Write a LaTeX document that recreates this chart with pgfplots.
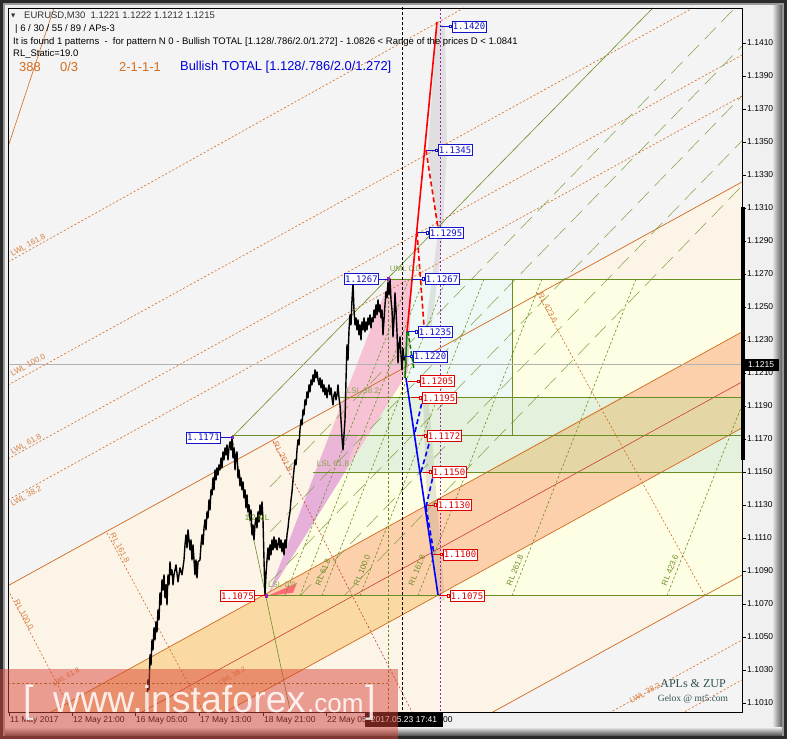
\documentclass[border=0pt]{standalone}
\usepackage{pgfplots}
\pgfplotsset{compat=1.18}
\usepackage{fontspec}
\setmainfont{Liberation Sans}
\newfontfamily\dejavu{DejaVu Sans}
\newfontfamily\monof{DejaVu Sans Mono}
\newfontfamily\seriff{Liberation Serif}
\definecolor{framedark}{HTML}{2B2B2B}
\definecolor{bevel}{HTML}{9A9A9A}
\definecolor{panel}{HTML}{F0F0F0}
\definecolor{plotbg}{HTML}{F4F4F4}
\definecolor{peach}{HTML}{FDF4E8}
\definecolor{bandYO}{HTML}{FBD9A2}
\definecolor{salmon}{HTML}{FCD0AA}
\definecolor{olivetan}{HTML}{E4D7A5}
\definecolor{ltyellow}{HTML}{FEFEE4}
\definecolor{ltgreen}{HTML}{E4F1DC}
\definecolor{ltcyan}{HTML}{EEF9F6}
\definecolor{pinkA}{HTML}{F7C2D4}
\definecolor{pinkB}{HTML}{E6B0DA}
\definecolor{org}{HTML}{D2691E}
\definecolor{redline}{HTML}{C8402F}
\definecolor{olive}{HTML}{6B8E23}
\definecolor{lblue}{HTML}{1414C8}
\definecolor{lred}{HTML}{E00000}
\definecolor{slate}{HTML}{2F4F4F}
\definecolor{wm}{HTML}{D8463A}
\definecolor{magen}{HTML}{A020C0}
\newcommand{\lblfont}{\monof\fontsize{9}{10}\selectfont}
\newcommand{\smf}{\fontsize{8}{9}\selectfont}
\newcommand{\hdf}{\fontsize{9.5}{10}\selectfont}
\newcommand{\plab}[5]{%
  \addplot[#4, line width=0.6pt, mark=square*, mark size=1.2pt, mark options={fill=white, solid}, mark indices={2}] coordinates {(#1,#2) (#3,#2)};
  \node[anchor=west, draw=#4, fill=white, text=#4, font=\lblfont, inner xsep=1pt, inner ysep=0pt, minimum height=11pt, line width=0.6pt, xshift=1.5pt] at (axis cs:#3,#2) {#5};
}
\newcommand{\plabL}[5]{%
  \addplot[#4, line width=0.6pt] coordinates {(#3,#2) (#1,#2)};
  \node[anchor=east, draw=#4, fill=white, text=#4, font=\lblfont, inner xsep=1pt, inner ysep=0pt, minimum height=11pt, line width=0.6pt] at (axis cs:#3,#2) {#5};
}
\begin{document}
\begin{tikzpicture}[x=1pt,y=1pt]
\useasboundingbox (0,0) rectangle (787,739);
\fill[framedark] (0,0) rectangle (787,739);
\fill[bevel] (3,3) rectangle (784,736);
\shade[left color=panel, right color=bevel!60!black] (772,6) rectangle (782,733);
\shade[top color=panel, bottom color=bevel!60!black] (5,4) rectangle (782,12);
\fill[panel] (5,12) rectangle (772,734);
\begin{axis}[
  at={(8pt,27pt)}, anchor=south west, scale only axis,
  width=734pt, height=704pt,
  xmin=8, xmax=742, ymin=1.100455, ymax=1.143121,
  axis background/.style={fill=plotbg},
  axis line style={black, line width=0.8pt},
  axis on top,
  clip mode=individual,
  scaled y ticks=false,
  ytick={1.101,1.103,1.105,1.107,1.109,1.111,1.113,1.115,1.117,1.119,1.121,1.123,1.125,1.127,1.129,1.131,1.133,1.135,1.137,1.139,1.141},
  yticklabels={1.1010,1.1030,1.1050,1.1070,1.1090,1.1110,1.1130,1.1150,1.1170,1.1190,1.1210,1.1230,1.1250,1.1270,1.1290,1.1310,1.1330,1.1350,1.1370,1.1390,1.1410},
  ytick pos=right, yticklabel pos=right,
  xtick={9,72,135,199,263,326},
  xticklabels={11 May 2017,12 May 21:00,16 May 05:00,17 May 13:00,18 May 21:00,22 May 05:00},
  xtick pos=left,
  tick align=outside, major tick length=4pt,
  tick style={black, line width=0.6pt},
  y tick label style={font=\fontsize{8.5}{10}\selectfont, anchor=west, inner sep=0pt, xshift=1pt},
  x tick label style={font=\fontsize{8.5}{10}\selectfont, anchor=north west, inner sep=0pt, xshift=1pt, yshift=-0.5pt},
]
% ---- zones
\addplot[fill=peach, draw=none] coordinates {(8,1.10811) (742,1.13258) (742,1.10876) (8,1.08429)} --cycle;
\addplot[fill=bandYO, draw=none] coordinates {(8,1.09902) (742,1.12349) (742,1.11767) (8,1.09320)} --cycle;
\addplot[fill=ltyellow, draw=none] coordinates {(268,1.1075) (390,1.1267) (742,1.1267) (742,1.1075)} --cycle;
\addplot[fill=ltgreen, draw=none] coordinates {(315,1.1150) (344,1.1195) (742,1.1195) (742,1.1150)} --cycle;
\addplot[fill=ltcyan, draw=none] coordinates {(408,1.1195) (408,1.1267) (512,1.1267) (512,1.1195)} --cycle;
\addplot[fill=salmon, draw=none] coordinates {(268,1.1075) (269.6,1.10774) (742,1.12349) (742,1.11767) (436.5,1.1075)} --cycle;
\addplot[fill=olivetan, draw=none] coordinates {(486,1.1150) (620,1.1195) (742,1.1195) (742,1.11767) (660,1.1150)} --cycle;
% pink pattern triangle
\addplot[fill=pinkB, draw=none] coordinates {(268,1.1075) (315.3,1.1150) (344.9,1.1150)} --cycle;
\addplot[fill=pinkA, draw=none] coordinates {(315.3,1.1150) (390,1.1267) (412,1.1267) (408,1.12107) (344.9,1.1150)} --cycle;
\addplot[fill=pinkB!70!pinkA, draw=none] coordinates {(315.3,1.1150) (330,1.1173) (358,1.1173) (344.9,1.1150)} --cycle;
\addplot[fill=red!45!pinkA, draw=none] coordinates {(268,1.1075) (293,1.10768) (297,1.10828)} --cycle;
% shadows
\addplot[fill=gray, fill opacity=0.18, draw=none] coordinates {(437,1.1423) (445,1.1420) (447,1.1345) (442,1.1290) (431,1.1235) (425,1.1235) (438,1.1295) (428,1.1345)} --cycle;
\addplot[fill=gray, fill opacity=0.18, draw=none] coordinates {(423,1.1195) (429,1.1192) (445,1.1072) (439,1.1072) (427,1.1130)} --cycle;
% ---- channel lines
\addplot[org, line width=0.7pt] coordinates {(8,1.10811) (742,1.13258)};
\addplot[org, line width=0.7pt] coordinates {(8,1.09902) (742,1.12349)};
\addplot[redline, line width=0.6pt] coordinates {(8,1.09599) (742,1.12046)};
\addplot[org, line width=0.7pt] coordinates {(8,1.09320) (742,1.11767)};
\addplot[org, line width=0.7pt] coordinates {(8,1.08429) (742,1.10876)};
\addplot[org, line width=0.6pt] coordinates {(8,1.13470) (54,1.14313)};
% dashed warning lines
\addplot[org, line width=0.6pt, dash pattern=on 2pt off 2pt] coordinates {(8,1.12773) (742,1.15252)};
\addplot[org, line width=0.6pt, dash pattern=on 2pt off 2pt] coordinates {(8,1.12027) (742,1.14476)};
\addplot[org, line width=0.6pt, dash pattern=on 2pt off 2pt] coordinates {(8,1.11579) (742,1.14027)};
\addplot[org, line width=0.6pt, dash pattern=on 2pt off 2pt] coordinates {(8,1.11330) (742,1.13779)};
\addplot[org, line width=0.6pt, dash pattern=on 2pt off 2pt] coordinates {(560,1.09876) (742,1.10482)};
\addplot[org, line width=0.6pt, dash pattern=on 2pt off 2pt] coordinates {(650,1.09931) (742,1.10240)};
% reaction lines
\addplot[org, line width=0.6pt, dash pattern=on 2pt off 2pt] coordinates {(8,1.10785) (76,1.09997)};
\addplot[org, line width=0.6pt, dash pattern=on 2pt off 2pt] coordinates {(107,1.11130) (208,1.09997)};
\addplot[redline, line width=0.6pt, dash pattern=on 2pt off 2pt] coordinates {(273,1.11688) (412,1.10046)};
\addplot[org, line width=0.6pt, dash pattern=on 2pt off 2pt] coordinates {(537,1.12585) (705,1.1075)};
% olive fan / long dashed lines
\addplot[olive, line width=0.6pt] coordinates {(232,1.1171) (653,1.14313)};
\addplot[olive, line width=0.6pt] coordinates {(232,1.1171) (291,1.1003)};
\addplot[olive!85!white, line width=0.5pt, dash pattern=on 16pt off 8pt] coordinates {(270,1.11410) (735,1.14313)};
\addplot[olive!85!white, line width=0.5pt, dash pattern=on 16pt off 8pt] coordinates {(270,1.11137) (742,1.14082)};
\addplot[olive!85!white, line width=0.5pt, dash pattern=on 16pt off 8pt] coordinates {(270,1.10834) (742,1.13779)};
\addplot[olive!85!white, line width=0.5pt, dash pattern=on 16pt off 8pt] coordinates {(300,1.1075) (742,1.13507)};
\addplot[olive!85!white, line width=0.5pt, dash pattern=on 16pt off 8pt] coordinates {(344,1.1075) (742,1.13234)};
% steep green dashed RL lines
\addplot[olive, line width=0.6pt, dash pattern=on 2.5pt off 2pt] coordinates {(285,1.1075) (409,1.1267)};
\addplot[olive, line width=0.6pt, dash pattern=on 2.5pt off 2pt] coordinates {(300,1.1075) (424,1.1267)};
\addplot[olive, line width=0.6pt, dash pattern=on 2.5pt off 2pt] coordinates {(322,1.1075) (446,1.1267)};
\addplot[olive, line width=0.6pt, dash pattern=on 2.5pt off 2pt] coordinates {(360,1.1075) (484,1.1267)};
\addplot[olive, line width=0.6pt, dash pattern=on 2.5pt off 2pt] coordinates {(418,1.1075) (542,1.1267)};
\addplot[olive, line width=0.6pt, dash pattern=on 2.5pt off 2pt] coordinates {(512,1.1075) (636,1.1267)};
\addplot[olive, line width=0.6pt, dash pattern=on 2.5pt off 2pt] coordinates {(667,1.1075) (742,1.11906)};
% horizontal levels
\addplot[olive, line width=0.7pt] coordinates {(390,1.1267) (742,1.1267)};
\addplot[olive, line width=0.7pt] coordinates {(340,1.1195) (742,1.1195)};
\addplot[olive, line width=0.7pt] coordinates {(232,1.1172) (742,1.1172)};
\addplot[olive, line width=0.7pt] coordinates {(313,1.1150) (742,1.1150)};
\addplot[olive, line width=0.7pt] coordinates {(268,1.1075) (742,1.1075)};
\addplot[olive, line width=0.7pt] coordinates {(512,1.1172) (512,1.1267)};
\addplot[olive, line width=0.6pt, dash pattern=on 2.5pt off 2pt] coordinates {(388,1.1267) (388,1.1003)};
\addplot[olive!60!org, line width=0.6pt, dash pattern=on 2.5pt off 2pt] coordinates {(8,1.10222) (388,1.10222)};
\addplot[black!30, line width=0.6pt] coordinates {(8,1.1215) (742,1.1215)};
% time lines
\addplot[black, line width=0.7pt, dash pattern=on 3pt off 2pt] coordinates {(402,1.1003) (402,1.1432)};
\addplot[magen, line width=0.6pt, dash pattern=on 2pt off 2pt] coordinates {(440,1.1003) (440,1.1432)};
% ---- price (M30)
\addplot[black, line width=1.4pt, line join=round] coordinates {
(146,1.09968)(147,1.10119)(148,1.10240)(149,1.10180)(150,1.10392)(151,1.10331)(152,1.10483)(153,1.10422)(154,1.10556)(155,1.10483)
(156,1.10592)(157,1.10531)(158,1.10664)(159,1.10604)(160,1.10768)(161,1.10695)(162,1.10846)(163,1.10786)(164,1.10877)(165,1.10738)
(166,1.10816)(167,1.10695)(168,1.10877)(169,1.10816)(170,1.10955)(171,1.10877)(172,1.10907)(173,1.10816)(174,1.10877)(176,1.10937)
(178,1.10834)(180,1.10919)(182,1.10877)(184,1.10967)(185,1.11059)(186,1.11119)(187,1.11040)(188,1.11149)(190,1.11028)(191,1.11089)
(192,1.10967)(193,1.11059)(195,1.10877)(196,1.10967)(197,1.10858)(198,1.10955)(200,1.10967)(201,1.11059)(202,1.11119)(203,1.11059)
(204,1.11161)(205,1.11210)(206,1.11149)(207,1.11258)(208,1.11222)(209,1.11331)(210,1.11270)(211,1.11392)(212,1.11361)(213,1.11464)
(214,1.11392)(215,1.11513)(216,1.11452)(217,1.11525)(218,1.11482)(219,1.11543)(220,1.11513)(221,1.11585)(222,1.11525)(223,1.11622)
(224,1.11573)(225,1.11646)(226,1.11604)(227,1.11664)(228,1.11573)(229,1.11646)(230,1.11683)(231,1.11634)(232,1.11713)(233,1.11585)
(234,1.11646)(235,1.11513)(236,1.11604)(237,1.11622)(238,1.11464)(239,1.11513)(240,1.11416)(241,1.11464)(242,1.11392)(243,1.11440)
(244,1.11343)(245,1.11392)(246,1.11282)(247,1.11361)(248,1.11258)(249,1.11301)(250,1.11210)(251,1.11270)(252,1.11119)(253,1.11179)
(254,1.11089)(255,1.11179)(256,1.11222)(257,1.11161)(258,1.11258)(259,1.11198)(260,1.11301)(261,1.11240)(262,1.11319)(263,1.11210)
(264,1.10967)(265,1.10755)(266,1.10877)(267,1.10967)(268,1.11040)(269,1.10967)(270,1.11059)(271,1.10998)(272,1.11089)(273,1.11028)
(274,1.11107)(275,1.11040)(276,1.11089)(277,1.11028)(278,1.11059)(279,1.11101)(280,1.11040)(281,1.11089)(282,1.11016)(283,1.11071)
(284,1.10998)(285,1.11089)(286,1.11040)(287,1.11119)(288,1.11161)(289,1.11222)(290,1.11258)(291,1.11331)(292,1.11380)(293,1.11452)
(294,1.11513)(295,1.11573)(296,1.11543)(297,1.11634)(298,1.11695)(299,1.11664)(300,1.11755)(301,1.11816)(302,1.11785)(303,1.11876)
(304,1.11846)(305,1.11937)(306,1.11907)(307,1.11986)(308,1.11949)(309,1.12028)(310,1.11986)(311,1.12058)(312,1.12028)(313,1.12089)
(314,1.12046)(315,1.12119)(316,1.12070)(317,1.12107)(318,1.12058)(319,1.12028)(320,1.12070)(321,1.12010)(322,1.12058)(323,1.11986)
(324,1.12028)(325,1.11967)(326,1.12010)(327,1.11949)(328,1.11998)(329,1.12028)(330,1.11967)(331,1.12010)(332,1.11949)(333,1.11907)
(334,1.11967)(335,1.11986)(336,1.11937)(337,1.11967)(338,1.12028)(339,1.11949)(340,1.11907)(341,1.11816)(342,1.11707)(343,1.11634)
(344,1.11725)(345,1.11816)(346,1.12058)(347,1.12270)(348,1.12179)(349,1.12361)(350,1.12452)(351,1.12392)(352,1.12543)(353,1.12646)
(354,1.12482)(355,1.12392)(356,1.12434)(357,1.12361)(358,1.12422)(359,1.12331)(360,1.12392)(361,1.12301)(362,1.12410)(363,1.12361)
(364,1.12434)(365,1.12349)(366,1.12410)(367,1.12361)(368,1.12434)(369,1.12392)(370,1.12452)(371,1.12373)(372,1.12434)(373,1.12410)
(374,1.12482)(375,1.12434)(376,1.12513)(377,1.12452)(378,1.12543)(379,1.12470)(380,1.12513)(381,1.12434)(382,1.12482)(383,1.12331)
(384,1.12422)(385,1.12513)(386,1.12592)(387,1.12555)(388,1.12652)(389,1.12573)(390,1.12670)(391,1.12543)(392,1.12482)(393,1.12319)
(394,1.12422)(395,1.12586)(396,1.12482)(397,1.12343)(398,1.12161)(399,1.12270)(400,1.12319)(401,1.12210)(402,1.12119)(403,1.12246)
(404,1.12179)(405,1.12198)(406,1.12149)};
% ---- pattern legs
\addplot[red, line width=1.6pt] coordinates {(407,1.12349) (437,1.14227)};
\addplot[red, line width=1.6pt, dash pattern=on 5pt off 3pt] coordinates {(417,1.12955) (424,1.12385)};
\addplot[red, line width=1.6pt, dash pattern=on 5pt off 3pt] coordinates {(426,1.13452) (438,1.12979)};
\addplot[green!50!black, line width=1.6pt] coordinates {(407,1.12349) (405,1.12070)};
\addplot[green!50!black, line width=1.6pt, dash pattern=on 4pt off 2.5pt] coordinates {(408,1.12349) (414,1.12119)};
\addplot[blue, line width=1.6pt] coordinates {(406,1.12070) (438,1.10755)};
\addplot[blue, line width=1.6pt, dash pattern=on 5pt off 3pt] coordinates {(415,1.11743) (423,1.11949)};
\addplot[blue, line width=1.6pt, dash pattern=on 5pt off 3pt] coordinates {(421,1.11501) (431,1.11713)};
\addplot[blue, line width=1.6pt, dash pattern=on 5pt off 3pt] coordinates {(426,1.11289) (434,1.11501)};
\addplot[blue, line width=1.6pt, dash pattern=on 5pt off 3pt] coordinates {(426,1.11289) (434,1.11004)};
\addplot[only marks, mark=square*, mark size=1.3pt, color=magen] coordinates {(388,1.1267) (232,1.1171) (266,1.1075)};
% ---- price labels
\plab{440}{1.1420}{450}{lblue}{1.1420}
\plab{427}{1.1345}{436}{lblue}{1.1345}
\plab{418}{1.1295}{427}{lblue}{1.1295}
\plab{412}{1.1267}{423}{lblue}{1.1267}
\plab{407}{1.1235}{416}{lblue}{1.1235}
\plab{403}{1.1220}{411}{lblue}{1.1220}
\plab{408}{1.1205}{418}{lred}{1.1205}
\plab{412}{1.1195}{420}{lred}{1.1195}
\plab{417}{1.1172}{425}{lred}{1.1172}
\plab{423}{1.1150}{430}{lred}{1.1150}
\plab{427}{1.1130}{435}{lred}{1.1130}
\plab{433}{1.1100}{441}{lred}{1.1100}
\plab{439}{1.1075}{448}{lred}{1.1075}
\plabL{388}{1.1267}{379}{lblue}{1.1267}
\plabL{232}{1.1171}{221}{lblue}{1.1171}
\plabL{266}{1.1075}{255}{lred}{1.1075}
\end{axis}
% ---- rotated line captions
\begin{scope}[every node/.style={font=\smf, inner sep=0pt}]
\node[text=org!85!white, rotate=29] at (28,494) {LWL 161.8};
\node[text=org!85!white, rotate=29] at (28,374) {LWL 100.0};
\node[text=org!85!white, rotate=29] at (26,295) {LWL 61.8};
\node[text=org!85!white, rotate=29] at (26,243) {LWL 38.2};
\node[text=org!85!white, rotate=29, font=\fontsize{7}{8}\selectfont] at (66,62) {LWL 61.8};
\node[text=org!85!white, rotate=29, font=\fontsize{7}{8}\selectfont] at (232,63) {LWL 38.2};
\node[text=org!85!white, rotate=29] at (645,46) {LWL 38.2};
\node[text=org!85!white, rotate=-62] at (24,124) {RL 100.0};
\node[text=org!85!white, rotate=-62] at (120,191) {RL 161.8};
\node[text=org!85!white, rotate=-62] at (283,282) {RL 261.8};
\node[text=org!85!white, rotate=-62] at (548,431) {RL 423.6};
\node[text=olive, rotate=68] at (323,167) {RL 61.8};
\node[text=olive, rotate=68] at (362,169) {RL 100.0};
\node[text=olive, rotate=68] at (417,169) {RL 161.8};
\node[text=olive, rotate=68] at (515,169) {RL 261.8};
\node[text=olive, rotate=68] at (670,169) {RL 423.6};
\node[text=olive!80!white] at (405,470) {UML 0.0};
\node[text=olive] at (257,221) {1/2 ML};
\node[text=olive!80!white] at (333,275) {LSL 61.8};
\node[text=olive!80!white] at (363,348) {LSL 38.2};
\node[text=olive!80!white] at (282,154) {LSL 0.0};
\end{scope}
% ---- header
\node[anchor=west, inner sep=0pt, font=\dejavu\fontsize{5.5}{6}\selectfont, text=black!80] at (11,723) {▼};
\node[anchor=west, inner sep=0pt, font=\hdf, text=black!80] at (24,723) {EURUSD,M30\ \ 1.1221 1.1222 1.1212 1.1215};
\node[anchor=west, inner sep=0pt, font=\hdf] at (15,710) {| 6 / 30 / 55 / 89 / APs-3};
\node[anchor=west, inner sep=0pt, font=\hdf] at (13,697) {It is found 1 patterns\ \ -\ \ for pattern N 0 - Bullish TOTAL [1.128/.786/2.0/1.272] - 1.0826 < Range of the prices D < 1.0841};
\node[anchor=west, inner sep=0pt, font=\hdf] at (13,685) {RL\_Static=19.0};
\node[anchor=west, inner sep=0pt, font=\fontsize{12.9}{14}\selectfont, text=org!90!orange] at (19,672) {388};
\node[anchor=west, inner sep=0pt, font=\fontsize{12.9}{14}\selectfont, text=org!90!orange] at (60,672) {0/3};
\node[anchor=west, inner sep=0pt, font=\fontsize{12.9}{14}\selectfont, text=org!90!orange] at (119,672) {2-1-1-1};
\node[anchor=west, inner sep=0pt, font=\fontsize{12.9}{14}\selectfont, text=blue!85!black] at (180,672) {Bullish TOTAL [1.128/.786/2.0/1.272]};
% ---- signature
\node[font=\seriff\fontsize{12}{13}\selectfont, text=slate] at (693,55) {APLs \& ZUP};
\node[font=\seriff\fontsize{9.5}{10}\selectfont, text=slate] at (693,40) {Gelox @ mt5.com};
% ---- axis extras
\fill[black] (741,279) rectangle (745,532);
\fill[black] (743,368) rectangle (779,380);
\node[font=\fontsize{8.5}{10}\selectfont, text=white, inner sep=0pt] at (761,374) {1.1215};
\fill[black] (365,12) rectangle (443,26);
\node[font=\fontsize{8.5}{10}\selectfont, text=white, inner sep=0pt] at (404,19) {2017.05.23 17:41};
\node[font=\fontsize{8.5}{10}\selectfont, anchor=west, inner sep=0pt] at (443,19) {00};
% ---- watermark
\fill[wm, opacity=0.5] (0,0) rectangle (398,70);
\begin{scope}[every node/.style={text=white, opacity=0.85, inner sep=0pt, anchor=base west}]
\node[font=\fontsize{38}{40}\selectfont] at (23,27) {[};
\node[font=\fontsize{37.5}{40}\selectfont] at (53,27) {www.instaforex};
\node[font=\fontsize{26}{28}\selectfont] at (307,27) {.com};
\node[font=\fontsize{38}{40}\selectfont] at (365,27) {]};
\end{scope}
\end{tikzpicture}
\end{document}
